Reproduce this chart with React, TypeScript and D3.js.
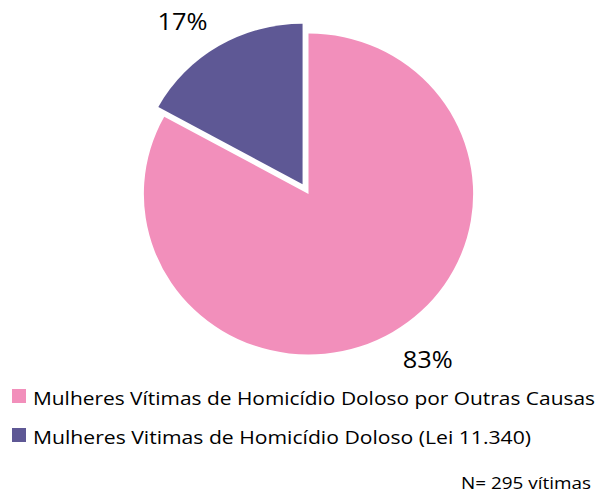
import React from "react";
import * as d3 from "d3";

const categories = [
  "Mulheres Vítimas de Homicídio Doloso por Outras Causas",
  "Mulheres Vitimas de Homicídio Doloso (Lei 11.340)",
];
const values = [83, 17];
const pctLabels = ["83%", "17%"];
const colors = ["#F28FBB", "#5E5895"];
const note = "N= 295 vítimas";

export default function App() {
  const W = 599, H = 493;
  const cx = 308.5, cy = 194;
  const r = 163;
  const explode = [0, 11.5];
  const pie = d3.pie<number>().sort(null).value((d) => d);
  const arcs = pie(values);
  const arcGen = d3.arc<d3.PieArcDatum<number>>().innerRadius(0).outerRadius(r);
  const font = "'Open Sans', sans-serif";
  const labelPos = [
    { x: 427.7, y: 368 },
    { x: 182.5, y: 29.5 },
  ];
  const legendLens = [562, 498];
  return (
    <svg width={W} height={H} style={{ position: "absolute", left: 0, top: 0 }}>
      <rect width={W} height={H} fill="#fff" />
      <g transform={`translate(${cx},${cy}) scale(1.01,0.985)`}>
        {arcs.map((a, i) => {
          const mid = (a.startAngle + a.endAngle) / 2;
          const dx = Math.sin(mid) * explode[i];
          const dy = -Math.cos(mid) * explode[i];
          return (
            <path
              key={i}
              d={arcGen(a) || ""}
              fill={colors[i]}
              transform={`translate(${dx},${dy})`}
            />
          );
        })}
      </g>
      {pctLabels.map((t, i) => (
        <text
          key={i}
          x={labelPos[i].x}
          y={labelPos[i].y}
          textAnchor="middle"
          fontFamily={font}
          fontSize={23}
          textLength={50}
          lengthAdjust="spacingAndGlyphs"
          fill="#000"
        >
          {t}
        </text>
      ))}
      {categories.map((c, i) => (
        <g key={i} transform={`translate(12,${389 + i * 39})`}>
          <rect width={14} height={14} fill={colors[i]} />
          <text
            x={21}
            y={15.5}
            fontFamily={font}
            fontSize={18}
            textLength={legendLens[i]}
            lengthAdjust="spacingAndGlyphs"
            fill="#000"
          >
            {c}
          </text>
        </g>
      ))}
      <text
        x={461}
        y={488.5}
        fontFamily={font}
        fontSize={15.5}
        textLength={130}
        lengthAdjust="spacingAndGlyphs"
        fill="#000"
      >
        {note}
      </text>
    </svg>
  );
}
